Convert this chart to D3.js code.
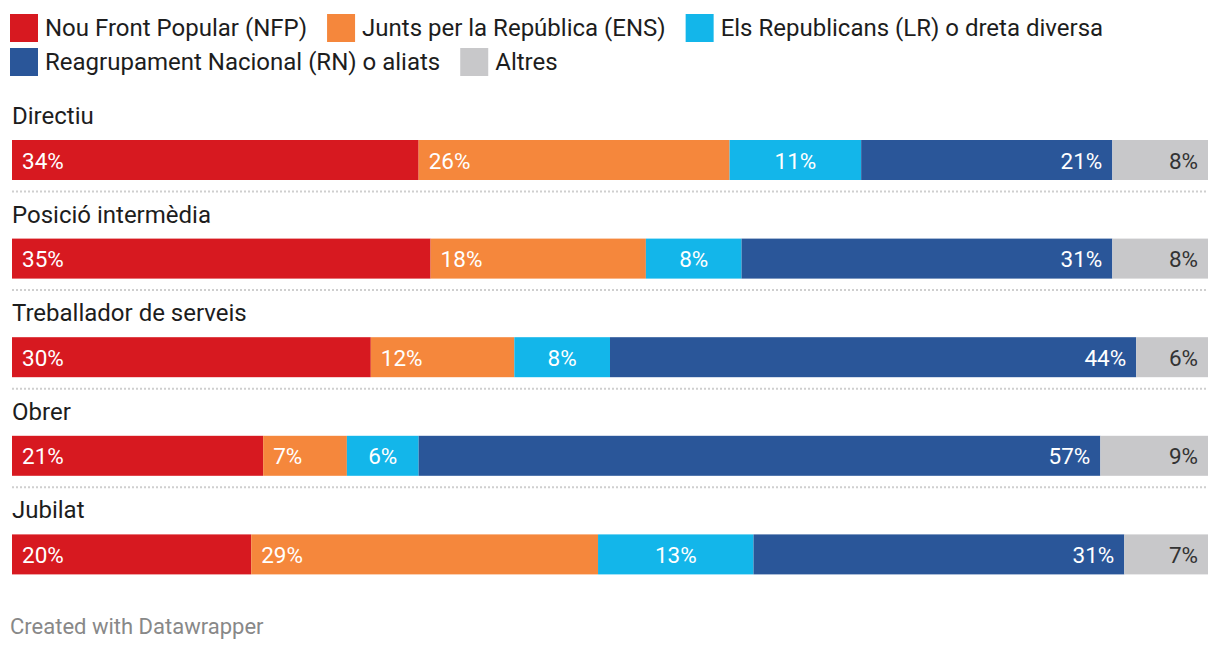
<!DOCTYPE html>
<html><head><meta charset="utf-8">
<script src="https://cdn.jsdelivr.net/npm/d3@7"></script>
<style>
body{margin:0;background:#fff;font-family:Roboto,"Noto Sans",sans-serif;}
svg{display:block}
</style></head><body>
<svg id="c" width="1220" height="652"></svg>
<script>
const categories = ["Directiu","Posició intermèdia","Treballador de serveis","Obrer","Jubilat"];
const seriesNames = ["Nou Front Popular (NFP)","Junts per la República (ENS)","Els Republicans (LR) o dreta diversa","Reagrupament Nacional (RN) o aliats","Altres"];
const seriesColors = ["#d71920","#f5873c","#13b6ea","#2a5699","#c8c8ca"];
const NFP = [34,35,30,21,20];
const ENS = [26,18,12,7,29];
const LR  = [11,8,8,6,13];
const RN  = [21,31,44,57,31];
const Altres = [8,8,6,9,7];
const seriesValues = [NFP,ENS,LR,RN,Altres];
const labelAlign = ["start","start","middle","end","end"];
const labelColor = ["#fff","#fff","#fff","#fff","#333"];

const svg = d3.select("#c");
const x = d3.scaleLinear().domain([0,100]).range([12,1208]);
const y = d3.scaleBand().domain(categories).range([100,593]).paddingInner(0).paddingOuter(0);

// legend
const legendRows = [[0,1,2],[3,4]];
legendRows.forEach((row,ri)=>{
  let cx = 10;
  row.forEach(si=>{
    const g = svg.append("g").attr("transform",`translate(${cx},${14+ri*34})`);
    g.append("rect").attr("width",28).attr("height",28).attr("fill",seriesColors[si]);
    const t = g.append("text").attr("x",35).attr("y",22).attr("font-size",24).attr("fill","#1d1d1d").text(seriesNames[si]);
    cx += 35 + t.node().getComputedTextLength() + 20;
  });
});

const stackData = categories.map((c,i)=>{
  const o={cat:c}; seriesValues.forEach((s,j)=>o[j]=s[i]); return o;
});
const stack = d3.stack().keys(d3.range(seriesValues.length))(stackData);

categories.forEach((c,i)=>{
  const top = y(c);
  svg.append("text").attr("x",12).attr("y",top+24).attr("font-size",24).attr("fill","#1d1d1d").text(c);
  if(i<categories.length-1){
    svg.append("line").attr("x1",12).attr("x2",1208).attr("y1",top+91.5).attr("y2",top+91.5)
      .attr("stroke","#cfcfcf").attr("stroke-width",2).attr("stroke-dasharray","2,2");
  }
});

stack.forEach((layer,si)=>{
  const g = svg.append("g");
  layer.forEach((d,i)=>{
    const top = y(categories[i])+40;
    const x0 = x(d[0]), x1 = x(d[1]);
    g.append("rect").attr("x",x0).attr("y",top).attr("width",x1-x0).attr("height",40).attr("fill",seriesColors[si]);
    const a = labelAlign[si];
    const tx = a==="start"? x0+10 : a==="end"? x1-10 : (x0+x1)/2;
    g.append("text").attr("x",tx).attr("y",top+28.5).attr("text-anchor",a)
      .attr("font-size",22.5).attr("fill",labelColor[si]).text(seriesValues[si][i]+"%");
  });
});

svg.append("text").attr("x",10).attr("y",634).attr("font-size",22).attr("fill","#888").text("Created with Datawrapper");
</script>
</body></html>
